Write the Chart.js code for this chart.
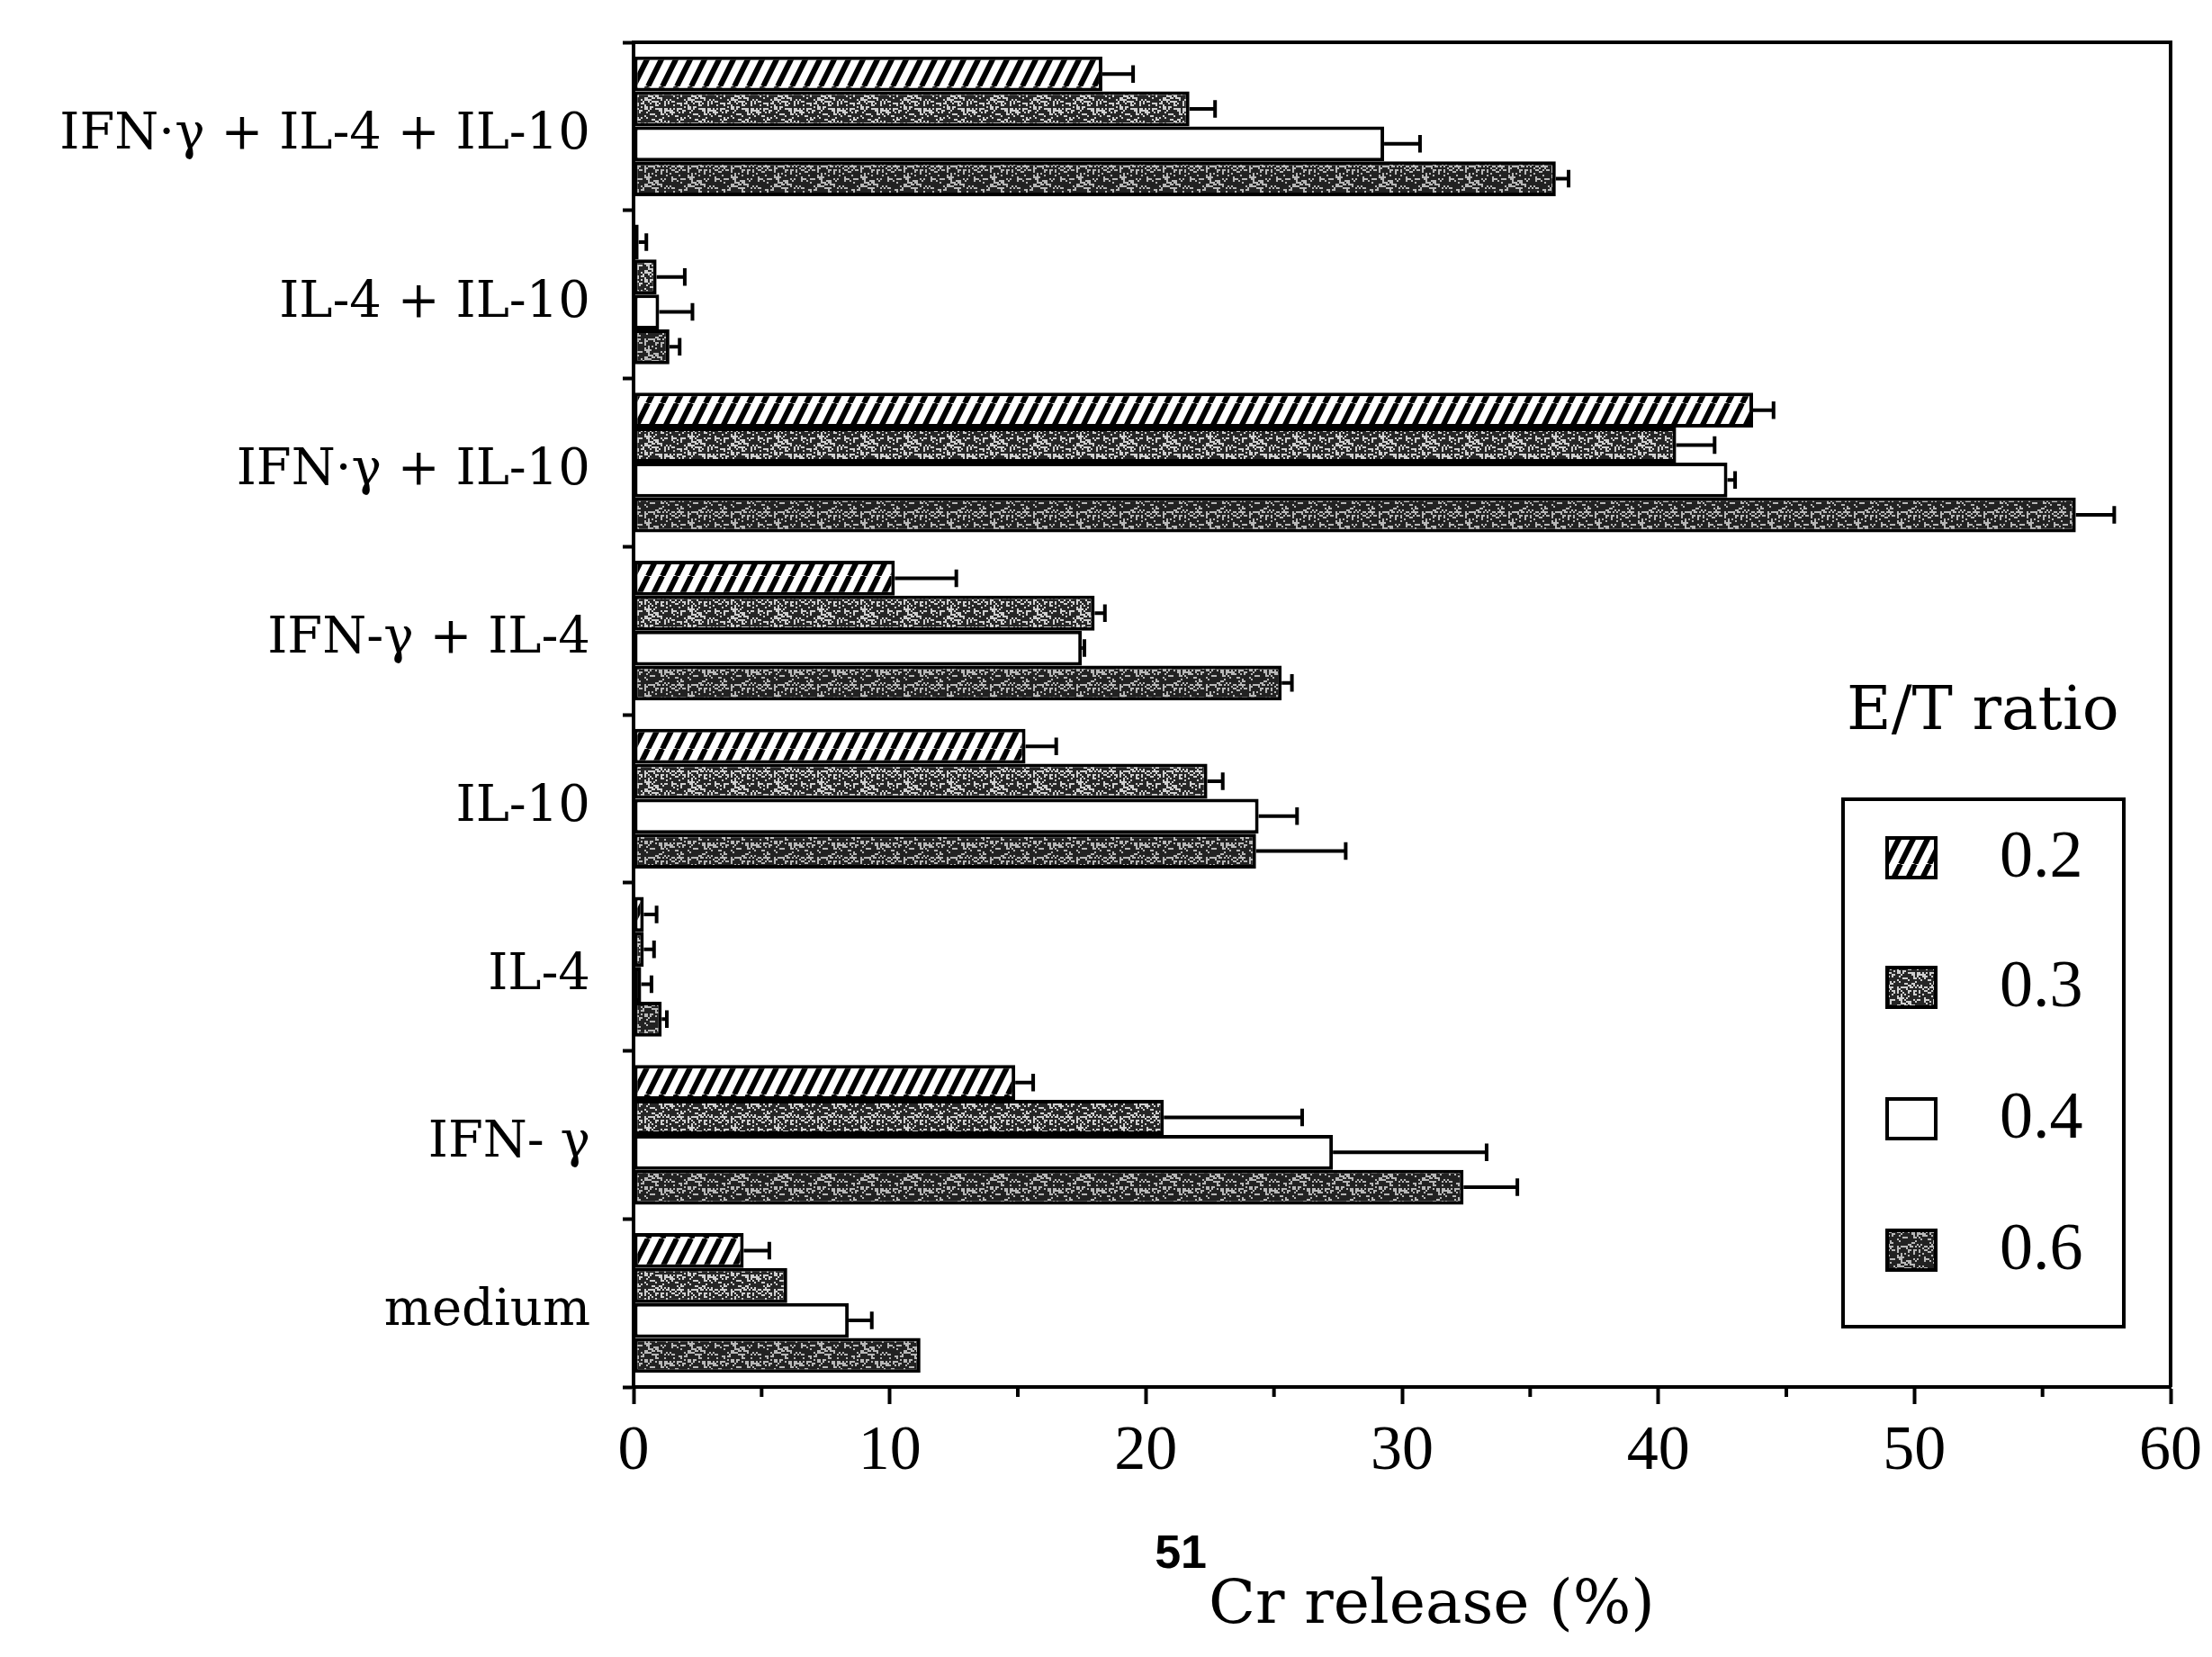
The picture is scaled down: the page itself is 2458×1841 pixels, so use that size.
<!DOCTYPE html>
<html>
<head>
<meta charset="utf-8">
<script src="https://cdn.jsdelivr.net/npm/chart.js@4.4.0/dist/chart.umd.min.js"></script>
<style>
  html, body { margin: 0; padding: 0; background: #fff; }
  canvas { display: block; }
</style>
</head>
<body>
<canvas id="chart" width="2458" height="1841"></canvas>
<script>
// categories, top to bottom
const categories = ['IFN\u00b7\u03b3 + IL-4 + IL-10', 'IL-4 + IL-10', 'IFN\u00b7\u03b3 + IL-10', 'IFN-\u03b3 + IL-4',
  'IL-10', 'IL-4', 'IFN- \u03b3', 'medium'];
const ratioLabels = ['0.2', '0.3', '0.4', '0.6'];

// 51Cr release (%) per E/T ratio, and error (+) sizes
const ratio02 = [18.3, 0.2, 43.7, 10.2, 15.3, 0.4, 14.9, 4.3];
const err02   = [1.2, 0.3, 0.8, 2.4, 1.2, 0.5, 0.7, 1.0];
const ratio03 = [21.7, 0.9, 40.7, 18.0, 22.4, 0.4, 20.7, 6.0];
const err03   = [1.0, 1.1, 1.5, 0.4, 0.6, 0.4, 5.4, 0];
const ratio04 = [29.3, 1.0, 42.7, 17.5, 24.4, 0.3, 27.3, 8.4];
const err04   = [1.4, 1.3, 0.3, 0.1, 1.5, 0.4, 6.0, 0.9];
const ratio06 = [36.0, 1.4, 56.3, 25.3, 24.3, 1.1, 32.4, 11.2];
const err06   = [0.5, 0.4, 1.5, 0.4, 3.5, 0.2, 2.1, 0];

const xTicks = [0, 10, 20, 30, 40, 50, 60];
const xMinor = [5, 15, 25, 35, 45, 55];

const ctx = document.getElementById('chart').getContext('2d');

// diagonal hatch for 0.2
function hatch() {
  const c = document.createElement('canvas');
  c.width = 16; c.height = 32;
  const g = c.getContext('2d');
  g.fillStyle = '#fff';
  g.fillRect(0, 0, 16, 32);
  g.strokeStyle = '#000';
  g.lineWidth = 6;
  for (let k = -1; k <= 1; k++) {
    g.beginPath();
    g.moveTo(k * 16, 32);
    g.lineTo(k * 16 + 16, 0);
    g.stroke();
  }
  return ctx.createPattern(c, 'repeat');
}

// fixed speckle texture (hash based, no randomness)
function speckle(dark, light, density) {
  const c = document.createElement('canvas');
  c.width = 48; c.height = 48;
  const g = c.getContext('2d');
  for (let i = 0; i < 24; i++) {
    for (let j = 0; j < 24; j++) {
      const s = Math.sin(i * 12.9898 + j * 78.233) * 43758.5453;
      const h = (s - Math.floor(s)) * 100;
      g.fillStyle = h < density ? light : dark;
      g.fillRect(i * 2, j * 2, 2, 2);
    }
  }
  return ctx.createPattern(c, 'repeat');
}

const fills = [hatch(), speckle('#262626', '#d0d0d0', 34), '#ffffff', speckle('#222222', '#b8b8b8', 28)];
const values = [ratio02, ratio03, ratio04, ratio06];
const errors = [err02, err03, err04, err06];

const datasets = ratioLabels.map((r, i) => ({
  label: r,
  data: values[i],
  errors: errors[i],
  backgroundColor: fills[i],
  borderColor: '#000',
  borderWidth: 4,
  borderSkipped: false,
  categoryPercentage: 0.83,
  barPercentage: 1.0
}));

const errorBars = {
  id: 'errorBars',
  afterDatasetsDraw(chart) {
    const c = chart.ctx, xs = chart.scales.x;
    c.save();
    c.strokeStyle = '#000';
    c.lineWidth = 4;
    chart.data.datasets.forEach((ds, i) => {
      chart.getDatasetMeta(i).data.forEach((bar, j) => {
        const e = ds.errors[j];
        if (!e) return;
        const x0 = xs.getPixelForValue(ds.data[j]);
        const x1 = xs.getPixelForValue(ds.data[j] + e);
        const h = bar.height * 0.5;
        c.beginPath();
        c.moveTo(x0, bar.y); c.lineTo(x1, bar.y);
        c.moveTo(x1, bar.y - h / 2); c.lineTo(x1, bar.y + h / 2);
        c.stroke();
      });
    });
    c.restore();
  }
};

const frame = {
  id: 'frame',
  afterDraw(chart) {
    const c = chart.ctx, a = chart.chartArea, xs = chart.scales.x;
    c.save();
    c.strokeStyle = '#000';
    c.lineWidth = 4;
    c.beginPath();
    c.moveTo(a.left, a.top); c.lineTo(a.right, a.top); c.lineTo(a.right, a.bottom);
    xMinor.forEach(v => {
      const px = xs.getPixelForValue(v);
      c.moveTo(px, a.bottom); c.lineTo(px, a.bottom + 11);
    });
    c.stroke();

    // x axis title: 51Cr release (%)
    c.fillStyle = '#000';
    c.textBaseline = 'alphabetic';
    c.font = 'bold 52px "Liberation Sans"';
    const w1 = c.measureText('51').width;
    c.font = '68px "DejaVu Serif"';
    const w2 = c.measureText('Cr release (%)').width;
    const sx = (a.left + a.right) / 2 - (w1 + w2) / 2 + 2;
    c.font = 'bold 52px "Liberation Sans"';
    c.fillText('51', sx, 1742);
    c.font = '68px "DejaVu Serif"';
    c.fillText('Cr release (%)', sx + w1 + 2, 1803);

    // legend
    c.font = '68px "DejaVu Serif"';
    c.fillText('E/T ratio', 2052, 810);
    c.lineWidth = 4;
    c.strokeRect(2048, 888, 312, 586);
    c.font = '74px "Liberation Serif"';
    const rows = [953, 1097, 1243, 1389];
    chart.data.datasets.forEach((ds, i) => {
      const y = rows[i];
      c.fillStyle = ds.backgroundColor;
      c.fillRect(2097, y - 22, 54, 44);
      c.lineWidth = 4;
      c.strokeRect(2097, y - 22, 54, 44);
      c.fillStyle = '#000';
      c.textBaseline = 'middle';
      c.fillText(ds.label, 2222, y + 2);
    });
    c.restore();
  }
};

new Chart(ctx, {
  type: 'bar',
  data: { labels: categories, datasets: datasets },
  options: {
    indexAxis: 'y',
    responsive: false,
    animation: false,
    devicePixelRatio: 1,
    layout: { padding: { top: 47, right: 46, left: 0, bottom: 0 } },
    plugins: { legend: { display: false }, tooltip: { enabled: false } },
    scales: {
      x: {
        min: 0, max: 60,
        afterBuildTicks(s) { s.ticks = xTicks.map(v => ({ value: v })); },
        ticks: { color: '#000', font: { family: 'Liberation Serif', size: 70 }, padding: 12 },
        grid: { drawOnChartArea: false, tickLength: 19, tickWidth: 4, color: '#000' },
        border: { display: true, width: 4, color: '#000' },
        afterFit(s) { s.height = 300; s.paddingLeft = 0; s.paddingRight = 0; }
      },
      y: {
        grid: { drawOnChartArea: false, offset: true, tickLength: 12, tickWidth: 4, color: '#000' },
        border: { display: true, width: 4, color: '#000' },
        ticks: { color: '#000', autoSkip: false, font: { family: 'DejaVu Serif', size: 56 }, padding: 36, labelOffset: 10 },
        afterFit(s) { s.width = 704; s.paddingTop = 0; s.paddingBottom = 0; }
      }
    }
  },
  plugins: [errorBars, frame]
});
</script>
</body>
</html>
